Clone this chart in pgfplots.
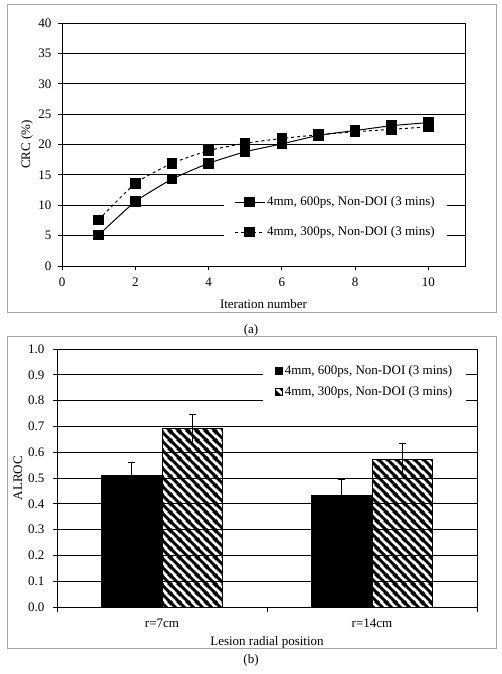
\documentclass[border=0pt]{standalone}
\usepackage{fontspec}
\setmainfont{Liberation Serif}
\usepackage{pgfplots}
\pgfplotsset{compat=1.18}
\usetikzlibrary{patterns}
\pgfdeclarepatternformonly{thicknw}{\pgfqpoint{0pt}{0pt}}{\pgfqpoint{9pt}{9pt}}{\pgfqpoint{9pt}{9pt}}{%
  \pgfsetlinewidth{3.3pt}%
  \pgfpathmoveto{\pgfqpoint{-1pt}{10pt}}\pgfpathlineto{\pgfqpoint{10pt}{-1pt}}%
  \pgfpathmoveto{\pgfqpoint{-5.5pt}{5.5pt}}\pgfpathlineto{\pgfqpoint{5.5pt}{-5.5pt}}%
  \pgfpathmoveto{\pgfqpoint{3.5pt}{14.5pt}}\pgfpathlineto{\pgfqpoint{14.5pt}{3.5pt}}%
  \pgfusepath{stroke}}
\begin{document}
\fontsize{13}{15.5}\selectfont
\begin{tikzpicture}
\useasboundingbox (0pt,0pt) rectangle (502pt,674pt);
\draw[black!35, line width=1pt] (7pt,669pt) rectangle (496pt,361pt);
\node at (251pt,344pt) {(a)};
\draw[black!35, line width=1pt] (7pt,337pt) rectangle (496pt,25pt);
\node at (251pt,14pt) {(b)};

\begin{axis}[
  at={(62pt,408pt)}, anchor=south west, scale only axis,
  width=403pt, height=243pt,
  xmin=0, xmax=11, ymin=0, ymax=40,
  xtick={0,2,...,10}, ytick={0,5,...,40},
  tick align=outside, tick pos=left, major tick length=4pt,
  tick style={black, line width=0.8pt},
  ymajorgrids, grid style={black, line width=0.8pt},
  axis line style={black, line width=0.9pt},
  /pgf/number format/assume math mode=true,
  xlabel={Iteration number}, ylabel={CRC (\%)},
  xlabel style={at={(axis description cs:0.5,0)}, anchor=center, yshift=-38pt},
  ylabel style={at={(axis description cs:-0.087,0.5)}, anchor=center},
  xticklabel style={anchor=center, yshift=-12pt},
  yticklabel style={anchor=east, xshift=-2pt},
  legend cell align=left,
  legend image code/.code={\draw[mark repeat=2,mark phase=2,#1] plot coordinates {(0pt,0pt) (15pt,0pt) (30pt,0pt)};},
  legend style={at={(rel axis cs:0.955,0.315)}, anchor=north east, draw=none, fill=white,
    inner xsep=10pt, inner ysep=5pt, row sep=15pt, font=\fontsize{13}{15.5}\selectfont},
]
\addplot[black, line width=1pt, smooth, tension=0.3, mark=square*, mark size=4.8pt, mark options={solid}]
  coordinates {(1,5.1) (2,10.6) (3,14.3) (4,16.9) (5,18.8) (6,20.1) (7,21.5) (8,22.3) (9,23.1) (10,23.6)};
\addlegendentry{4mm, 600ps, Non-DOI (3 mins)}
\addplot[black, line width=1pt, smooth, tension=0.3, dash pattern=on 3pt off 3pt, mark=square*, mark size=4.8pt, mark options={solid}]
  coordinates {(1,7.6) (2,13.6) (3,16.9) (4,19.0) (5,20.2) (6,21.0) (7,21.6) (8,22.1) (9,22.5) (10,22.9)};
\addlegendentry{4mm, 300ps, Non-DOI (3 mins)}
\end{axis}

\begin{axis}[
  at={(57pt,67pt)}, anchor=south west, scale only axis,
  width=420pt, height=258pt,
  xmin=0.5, xmax=2.5, ymin=0, ymax=1,
  xtick={1,2}, xticklabels={r=7cm, r=14cm},
  minor xtick={0.5,1.5,2.5}, minor tick length=5pt,
  ytick={0,0.1,...,1.0},
  yticklabel style={/pgf/number format/fixed, /pgf/number format/fixed zerofill, /pgf/number format/precision=1, anchor=east, xshift=-4pt},
  tick align=outside, tick pos=left, major tick length=4pt,
  x tick style={draw=none}, minor x tick style={draw=black, line width=0.8pt},
  y tick style={black, line width=0.8pt},
  ymajorgrids, grid style={black, line width=0.8pt},
  axis line style={black, line width=0.9pt},
  /pgf/number format/assume math mode=true,
  xlabel={Lesion radial position}, ylabel={ALROC},
  xlabel style={at={(axis description cs:0.5,0)}, anchor=center, yshift=-35pt},
  ylabel style={at={(axis description cs:-0.093,0.5)}, anchor=center},
  xticklabel style={anchor=center, yshift=-12pt},
  legend cell align=left,
  legend image code/.code={\draw[#1, draw=black, line width=0.6pt] (0pt,-3.5pt) rectangle (7pt,3.5pt);},
  legend style={at={(rel axis cs:0.975,0.965)}, anchor=north east, draw=none, fill=white,
    inner xsep=12pt, inner ysep=5pt, row sep=6pt, font=\fontsize{13}{15.5}\selectfont},
]
\addplot[ybar, bar width=0.29, bar shift=0pt, fill=black, draw=black,
  error bars/.cd, y dir=plus, y explicit,
  error bar style={black, line width=0.9pt},
  error mark options={rotate=90, mark size=3.5pt, line width=0.9pt, black}]
  coordinates {(0.855,0.509) +- (0,0.050) (1.855,0.433) +- (0,0.062)};
\addlegendentry{4mm, 600ps, Non-DOI (3 mins)}
\addplot[ybar, bar width=0.29, bar shift=0pt, draw=black, line width=0.9pt,
  pattern=thicknw, pattern color=black,
  error bars/.cd, y dir=plus, y explicit,
  error bar style={black, line width=0.9pt},
  error mark options={rotate=90, mark size=3.5pt, line width=0.9pt, black}]
  coordinates {(1.145,0.691) +- (0,0.056) (2.145,0.571) +- (0,0.061)};
\addlegendentry{4mm, 300ps, Non-DOI (3 mins)}
\addplot[ybar, bar width=0.29, bar shift=0pt, draw=none, fill=none, forget plot,
  error bars/.cd, y dir=minus, y explicit, error mark=none,
  error bar style={black, line width=0.9pt}]
  coordinates {(1.145,0.691) +- (0,0.056) (2.145,0.571) +- (0,0.061)};
\end{axis}
\end{tikzpicture}
\end{document}
